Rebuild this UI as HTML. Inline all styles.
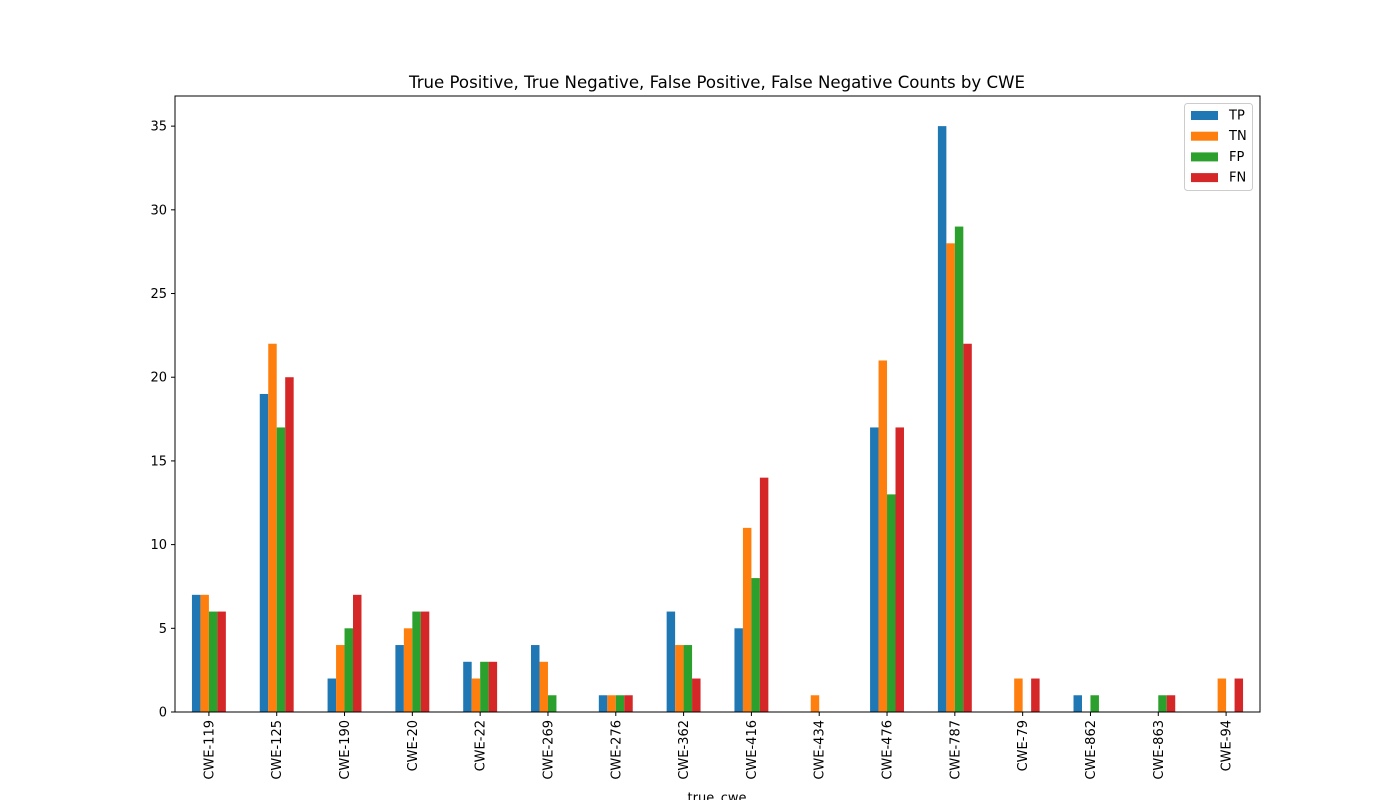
<!DOCTYPE html>
<html><head><meta charset="utf-8"><style>
body{margin:0;background:#fff}
svg{display:block;font-family:"DejaVu Sans","Liberation Sans",sans-serif}
</style></head><body>
<svg id="chart" width="1400" height="800" xmlns="http://www.w3.org/2000/svg">
<text x="717" y="88" text-anchor="middle" font-size="16.6">True Positive, True Negative, False Positive, False Negative Counts by CWE</text>
<g id="bars"></g>
<g id="yticks"></g>
<g id="xticks"></g>
<rect x="175" y="96" width="1085" height="616" fill="none" stroke="#000" stroke-width="1"/>
<text x="717" y="802" text-anchor="middle" font-size="13">true_cwe</text>
<g id="legend"></g>
</svg>
<script>
const categories=["CWE-119","CWE-125","CWE-190","CWE-20","CWE-22","CWE-269","CWE-276","CWE-362","CWE-416","CWE-434","CWE-476","CWE-787","CWE-79","CWE-862","CWE-863","CWE-94"];
const tp=[7,19,2,4,3,4,1,6,5,0,17,35,0,1,0,0];
const tn=[7,22,4,5,2,3,1,4,11,1,21,28,2,0,0,2];
const fp=[6,17,5,6,3,1,1,4,8,0,13,29,0,1,1,0];
const fn=[6,20,7,6,3,0,1,2,14,0,17,22,2,0,1,2];
const seriesNames=["TP","TN","FP","FN"];
const yTicks=[0,5,10,15,20,25,30,35];
const colors=["#1f77b4","#ff7f0e","#2ca02c","#d62728"];
const series=[tp,tn,fp,fn];
const NS="http://www.w3.org/2000/svg";
const L=175,R=1260,T=96,B=712,yMax=36.8;
const y=v=>B-v*(B-T)/yMax;
const step=(R-L)/categories.length;
const xc=i=>L+step*(i+0.5);
const bw=step*0.5/4;
function mk(tag,attrs,parent){const e=document.createElementNS(NS,tag);for(const k in attrs)e.setAttribute(k,attrs[k]);parent.appendChild(e);return e;}
const gb=document.getElementById("bars");
series.forEach((s,si)=>{s.forEach((v,i)=>{
 const r=mk("rect",{x:xc(i)-2*bw+si*bw,y:y(v),width:bw,height:B-y(v),fill:colors[si]},gb);
 
 
});});
const gy=document.getElementById("yticks");
yTicks.forEach(t=>{
 const l=mk("line",{x1:L-4,x2:L,y1:y(t),y2:y(t),stroke:"#000"},gy);
 
 
 const tx=mk("text",{x:L-8,y:y(t)+4.5,"text-anchor":"end","font-size":"13"},gy);
 tx.textContent=t;
 
 
});
const gx=document.getElementById("xticks");
categories.forEach((c,i)=>{
 const l=mk("line",{x1:xc(i),x2:xc(i),y1:B,y2:B+4,stroke:"#000"},gx);
 
 
 const tx=mk("text",{x:0,y:0,"text-anchor":"end","font-size":"13",transform:`translate(${xc(i)+4.5},${B+8}) rotate(-90)`},gx);
 tx.textContent=c;
 
 
});
const lg=document.getElementById("legend");
mk("rect",{x:1184.5,y:103.5,width:68,height:87,rx:3,fill:"#fff",stroke:"#ccc"},lg);
seriesNames.forEach((n,i)=>{
 const yy=115+i*20.7;
 const r=mk("rect",{x:1191,y:yy-4,width:27,height:9,fill:colors[i]},lg);
 
 
 const t=mk("text",{x:1229,y:yy+4.5,"font-size":"13"},lg);
 t.textContent=n;
 
 
});
</script>
</body></html>
